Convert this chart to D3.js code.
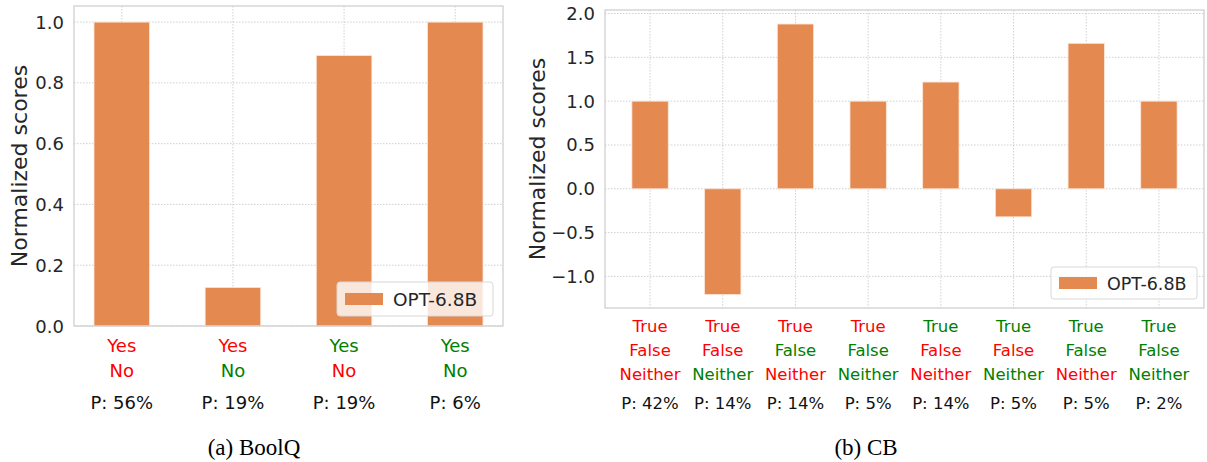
<!DOCTYPE html>
<html>
<head>
<meta charset="utf-8">
<script src="https://cdn.jsdelivr.net/npm/d3@7"></script>
<style>
  body { margin: 0; background: #fff; }
  svg { display: block; }
</style>
</head>
<body>
<div id="content"></div>
<script>
// BoolQ panel
var boolqLines = [["Yes", "No"], ["Yes", "No"], ["Yes", "No"], ["Yes", "No"]];
var boolqColours = [["red", "red"], ["red", "green"], ["green", "red"], ["green", "green"]];
var boolqP = ["56%", "19%", "19%", "6%"];
var boolqScores = [1.0, 0.127, 0.89, 1.0];
var boolqTicks = [0.0, 0.2, 0.4, 0.6, 0.8, 1.0];

// CB panel
var cbLines = ["True", "False", "Neither"];
var cbColours = [
    ["red", "red", "red"], ["red", "red", "green"], ["red", "green", "red"], ["red", "green", "green"],
    ["green", "red", "red"], ["green", "red", "green"], ["green", "green", "red"], ["green", "green", "green"]
];
var cbP = ["42%", "14%", "14%", "5%", "14%", "5%", "5%", "2%"];
var cbScores = [1.0, -1.206, 1.88, 1.0, 1.218, -0.32, 1.66, 1.0];
var cbTicks = [-1.0, -0.5, 0.0, 0.5, 1.0, 1.5, 2.0];

var seriesName = "OPT-6.8B";
var bar_colour = "#e4894f";
var red = "#ff0000", green = "#008000";

var chart = d3.select("#content")
  .append("svg:svg")
  .attr("width", 1207)
  .attr("height", 462);

function fmt(v) {
    return d3.format(".1f")(v).replace("-", "\u2212");
}

function panel(o) {
    var n = o.scores.length;
    var x = d3.scaleLinear().domain([-o.pad, n - 1 + o.pad]).range([o.left, o.right]);
    var y = d3.scaleLinear().domain(o.ydom).range([o.bottom, o.top]);
    var g = chart.append("g");

    // grid
    g.selectAll(".hg").data(o.ticks).enter().append("line")
      .attr("x1", o.left).attr("x2", o.right)
      .attr("y1", function(d) { return y(d); })
      .attr("y2", function(d) { return y(d); })
      .attr("stroke", "#c4c4c4").attr("stroke-width", 0.8)
      .attr("stroke-dasharray", "1.5,1.5");
    g.selectAll(".vg").data(d3.range(n)).enter().append("line")
      .attr("y1", o.top).attr("y2", o.bottom)
      .attr("x1", function(d) { return x(d); })
      .attr("x2", function(d) { return x(d); })
      .attr("stroke", "#c4c4c4").attr("stroke-width", 0.8)
      .attr("stroke-dasharray", "1.5,1.5");

    // bars
    g.selectAll(".bar").data(o.scores).enter().append("rect")
      .attr("x", function(d, i) { return x(i - 0.25); })
      .attr("width", x(0.25) - x(-0.25))
      .attr("y", function(d) { return y(Math.max(0, d)); })
      .attr("height", function(d) { return Math.abs(y(d) - y(0)); })
      .attr("fill", bar_colour)
      .attr("stroke", "#fbe6d9")
      .attr("stroke-width", 0.8);

    // frame
    g.append("rect")
      .attr("x", o.left).attr("y", o.top)
      .attr("width", o.right - o.left).attr("height", o.bottom - o.top)
      .attr("fill", "none").attr("stroke", "#d0d0d0").attr("stroke-width", 1.3);

    // y ticks
    g.selectAll(".yt").data(o.ticks).enter().append("text")
      .attr("x", o.left - 10)
      .attr("y", function(d) { return y(d) + 6.5; })
      .attr("text-anchor", "end")
      .attr("font-family", "DejaVu Sans")
      .attr("font-size", "18px")
      .attr("fill", "#262626")
      .text(fmt);

    // y label
    g.append("text")
      .attr("transform", "translate(" + o.ylabelX + "," + ((o.top + o.bottom) / 2) + ") rotate(-90)")
      .attr("text-anchor", "middle")
      .attr("font-family", "DejaVu Sans")
      .attr("font-size", "22px")
      .attr("fill", "#262626")
      .text("Normalized scores");

    // x tick labels, one line per row
    for (var i = 0; i < n; i++) {
        var lab = o.lines[i];
        for (var k = 0; k < lab.length; k++) {
            g.append("text")
              .attr("x", x(i))
              .attr("y", o.labelY + k * o.lineGap)
              .attr("text-anchor", "middle")
              .attr("font-family", "DejaVu Sans")
              .attr("font-size", o.labelSize + "px")
              .attr("fill", o.colours[i][k] == "red" ? red : green)
              .text(lab[k]);
        }
        g.append("text")
          .attr("x", x(i))
          .attr("y", o.pY)
          .attr("text-anchor", "middle")
          .attr("font-family", "DejaVu Sans")
          .attr("font-size", o.labelSize + "px")
          .attr("fill", "#111")
          .text("P: " + o.p[i]);
    }

    // legend
    var L = o.legend;
    g.append("rect")
      .attr("x", L.x).attr("y", L.y).attr("width", L.w).attr("height", L.h)
      .attr("rx", 3).attr("ry", 3)
      .attr("fill", "white").attr("fill-opacity", 0.8)
      .attr("stroke", "#d8d8d8").attr("stroke-width", 1);
    g.append("rect")
      .attr("x", L.x + 8).attr("y", L.y + L.h / 2 - 6)
      .attr("width", 38).attr("height", 12)
      .attr("fill", bar_colour);
    g.append("text")
      .attr("x", L.x + 56).attr("y", L.y + L.h / 2 + 6.5)
      .attr("font-family", "DejaVu Sans")
      .attr("font-size", L.size + "px")
      .attr("fill", "#262626")
      .text(seriesName);

    // caption
    chart.append("text")
      .attr("x", o.capX).attr("y", 455)
      .attr("text-anchor", "middle")
      .attr("font-family", "Liberation Serif")
      .attr("font-size", "23px")
      .attr("fill", "#000")
      .text(o.caption);
}

panel({
    scores: boolqScores, ticks: boolqTicks, ydom: [0, 1.053],
    left: 74, right: 503, top: 6, bottom: 326, pad: 0.43,
    ylabelX: 27,
    lines: boolqLines, colours: boolqColours, p: boolqP,
    labelY: 352, lineGap: 25, pY: 409, labelSize: 18,
    legend: { x: 337, y: 282, w: 156, h: 34, size: 18.5 },
    capX: 254, caption: "(a) BoolQ"
});

panel({
    scores: cbScores, ticks: cbTicks, ydom: [-1.36, 2.04],
    left: 605, right: 1204, top: 10, bottom: 308, pad: 0.62,
    ylabelX: 545,
    lines: cbColours.map(function() { return cbLines; }), colours: cbColours, p: cbP,
    labelY: 332, lineGap: 24, pY: 409, labelSize: 16.5,
    legend: { x: 1051, y: 267, w: 146, h: 32, size: 17.5 },
    capX: 866, caption: "(b) CB"
});
</script>
</body>
</html>
